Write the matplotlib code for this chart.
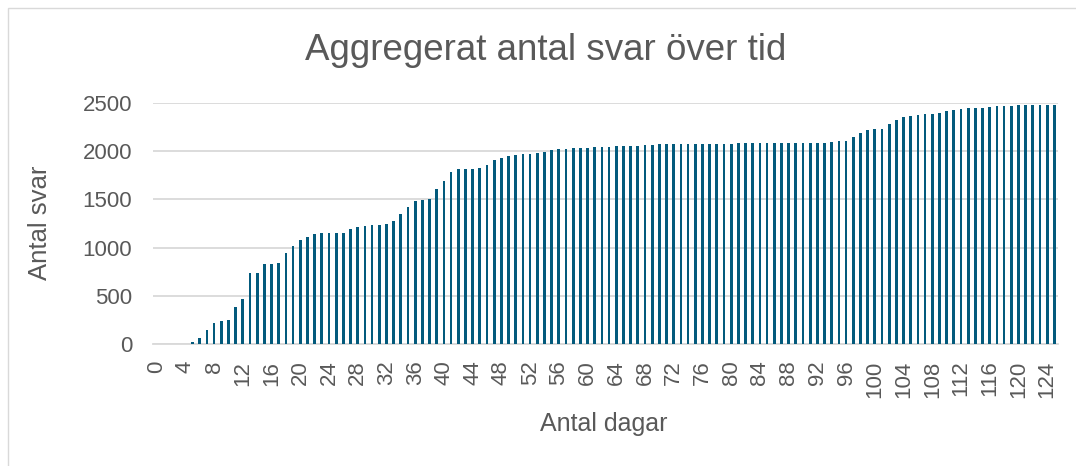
import matplotlib
matplotlib.use("Agg")
import matplotlib.pyplot as plt
from matplotlib.patches import Rectangle

plt.rcParams['font.family'] = ['Liberation Sans', 'DejaVu Sans']

days = list(range(126))
answers = [
    0, 0, 0, 0, 0, 17, 62, 145, 215, 239,
    253, 388, 467, 734, 737, 827, 827, 837, 948, 1021,
    1083, 1111, 1145, 1149, 1149, 1149, 1152, 1190, 1214, 1228,
    1232, 1232, 1246, 1277, 1346, 1419, 1484, 1495, 1502, 1605,
    1695, 1785, 1817, 1820, 1820, 1827, 1861, 1910, 1934, 1951,
    1965, 1969, 1969, 1986, 1996, 2010, 2021, 2028, 2031, 2031,
    2034, 2041, 2041, 2045, 2052, 2052, 2052, 2055, 2062, 2066,
    2072, 2072, 2072, 2072, 2076, 2076, 2079, 2079, 2079, 2079,
    2079, 2083, 2083, 2083, 2083, 2083, 2083, 2083, 2083, 2083,
    2083, 2083, 2086, 2090, 2097, 2104, 2107, 2149, 2190, 2221,
    2228, 2228, 2277, 2327, 2352, 2367, 2377, 2384, 2384, 2394,
    2412, 2425, 2439, 2446, 2446, 2450, 2460, 2467, 2467, 2474,
    2477, 2477, 2477, 2484, 2484, 2484,
]
xtick_labels = [str(d) for d in range(0, 125, 4)]
ytick_values = [0, 500, 1000, 1500, 2000, 2500]

title = "Aggregerat antal svar över tid"
xlabel = "Antal dagar"
ylabel = "Antal svar"

text_color = "#595959"
bar_color = "#035A7C"
grid_color = "#D9D9D9"

fig = plt.figure(figsize=(10.76, 4.66), dpi=100)
# chart border
fig.patches.append(Rectangle((8 / 1076, -0.1), 1.2, (466 - 8) / 466 + 0.1,
                             transform=fig.transFigure, fill=False,
                             edgecolor=grid_color, linewidth=1))

ax = fig.add_axes([153 / 1076, (466 - 344) / 466, (1058 - 153) / 1076, (344 - 103) / 466])
ax.bar(days, answers, width=0.38, color=bar_color, zorder=3)

ax.set_xlim(-0.5, 125.5)
ax.set_ylim(0, 2500)
ax.set_yticks(ytick_values)
ax.set_yticklabels([str(v) for v in ytick_values])
ax.set_xticks(list(range(0, 125, 4)))
ax.set_xticklabels(xtick_labels, rotation=90)

ax.tick_params(axis='both', length=0, colors=text_color, labelsize=16)
ax.tick_params(axis='y', pad=15)
ax.tick_params(axis='x', pad=12)
ax.grid(axis='y', color=grid_color, linewidth=1.3, zorder=0)
for s in ['top', 'right', 'left']:
    ax.spines[s].set_visible(False)
ax.spines['bottom'].set_color(grid_color)
ax.spines['bottom'].set_linewidth(1.3)

fig.text(546 / 1076, 1 - 50 / 466, title, ha='center', va='center',
         fontsize=26.5, color=text_color)
fig.text(604 / 1076, 1 - 424 / 466, xlabel, ha='center', va='center',
         fontsize=18, color=text_color)
fig.text(40 / 1076, 1 - 223 / 466, ylabel, ha='center', va='center',
         fontsize=18.5, color=text_color, rotation=90)

fig.savefig("out.png", dpi=100)
